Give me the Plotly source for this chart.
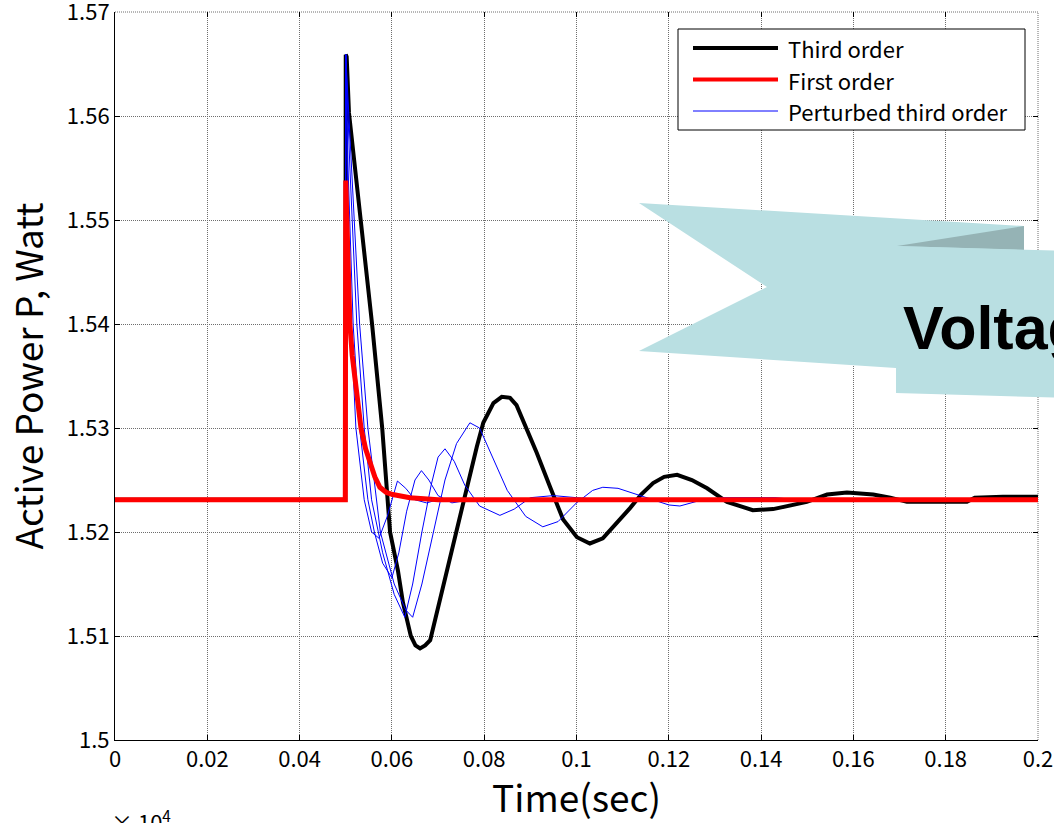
import plotly.graph_objects as go

# ---- data: time (s) and active power (in units of 10^4 W) ----
POWER_EXP = 4

t_third = [0.0, 0.0499, 0.0500, 0.0502, 0.0507, 0.0515, 0.0531, 0.0545, 0.0557, 0.0579,
           0.0596, 0.0613, 0.0624, 0.0641, 0.0651, 0.0661, 0.0672, 0.0683, 0.0697, 0.0711,
           0.0726, 0.0740, 0.0755, 0.0769, 0.0784, 0.0798, 0.0820, 0.0838, 0.0856, 0.0870,
           0.0884, 0.0914, 0.0943, 0.0971, 0.1001, 0.1029, 0.1057, 0.1088, 0.1116, 0.1140,
           0.1166, 0.1190, 0.1218, 0.1250, 0.1283, 0.1326, 0.1382, 0.1426, 0.1470, 0.1499,
           0.1543, 0.1586, 0.1643, 0.1680, 0.1716, 0.1846, 0.1863, 0.1924, 0.2000]
p_third = [1.5231, 1.5231, 1.5659, 1.5657, 1.5603, 1.5570, 1.5501, 1.5450, 1.5400, 1.5300,
           1.5200, 1.5163, 1.5132, 1.5100, 1.5091, 1.5088, 1.5091, 1.5096, 1.5122, 1.5147,
           1.5173, 1.5199, 1.5228, 1.5253, 1.5282, 1.5305, 1.5324, 1.5330, 1.5329, 1.5322,
           1.5308, 1.5276, 1.5243, 1.5212, 1.5195, 1.5189, 1.5194, 1.5209, 1.5223, 1.5236,
           1.5247, 1.5253, 1.5255, 1.5250, 1.5242, 1.5229, 1.5221, 1.5222, 1.5226, 1.5229,
           1.5236, 1.5238, 1.5236, 1.5233, 1.5229, 1.5229, 1.5233, 1.5234, 1.5234]

t_first = [0.0, 0.0499, 0.0500, 0.0502, 0.0506, 0.0509, 0.0514, 0.0520, 0.0533, 0.0543,
           0.0553, 0.0563, 0.0574, 0.0588, 0.0602, 0.0620, 0.0639, 0.0700, 0.2000]
p_first = [1.5231, 1.5231, 1.5538, 1.5500, 1.5442, 1.5400, 1.5370, 1.5346, 1.5300, 1.5280,
           1.5266, 1.5253, 1.5243, 1.5238, 1.5236, 1.5234, 1.5233, 1.5231, 1.5231]

t_pert1 = [0.0, 0.0499, 0.0500, 0.0503, 0.0507, 0.0511, 0.0522, 0.0540, 0.0556, 0.0572,
           0.0590, 0.0612, 0.0630, 0.0650, 0.0675, 0.0700, 0.2000]
p_pert1 = [1.5231, 1.5231, 1.5659, 1.5550, 1.5450, 1.5400, 1.5300, 1.5231, 1.5200, 1.5194,
           1.5215, 1.5249, 1.5242, 1.5231, 1.5228, 1.5231, 1.5231]

t_pert2 = [0.0, 0.0499, 0.0500, 0.0505, 0.0516, 0.0530, 0.0548, 0.0562, 0.0580, 0.0600,
           0.0615, 0.0632, 0.0650, 0.0664, 0.0680, 0.0700, 0.0730, 0.0770, 0.2000]
p_pert2 = [1.5231, 1.5231, 1.5659, 1.5550, 1.5400, 1.5300, 1.5231, 1.5200, 1.5170, 1.5156,
           1.5180, 1.5220, 1.5250, 1.5259, 1.5250, 1.5235, 1.5228, 1.5231, 1.5231]

t_pert3 = [0.0, 0.0499, 0.0500, 0.0509, 0.0524, 0.0540, 0.0556, 0.0580, 0.0605, 0.0628,
           0.0645, 0.0665, 0.0685, 0.0700, 0.0715, 0.0735, 0.0758, 0.0790, 0.0834, 0.0865,
           0.0900, 0.0950, 0.1000, 0.1060, 0.2000]
p_pert3 = [1.5231, 1.5231, 1.5659, 1.5550, 1.5400, 1.5300, 1.5231, 1.5180, 1.5140, 1.5118,
           1.5150, 1.5200, 1.5245, 1.5272, 1.5280, 1.5268, 1.5245, 1.5225, 1.5216, 1.5222,
           1.5233, 1.5235, 1.5233, 1.5231, 1.5231]

t_pert4 = [0.0, 0.0499, 0.0500, 0.0513, 0.0530, 0.0548, 0.0575, 0.0605, 0.0630, 0.0645,
           0.0665, 0.0690, 0.0715, 0.0740, 0.0769, 0.0790, 0.0815, 0.0850, 0.0890, 0.0927,
           0.0960, 0.1000, 0.1035, 0.1057, 0.1090, 0.1150, 0.1200, 0.1224, 0.1265, 0.1320,
           0.1430, 0.1480, 0.2000]
p_pert4 = [1.5231, 1.5231, 1.5659, 1.5550, 1.5400, 1.5300, 1.5200, 1.5150, 1.5125, 1.5118,
           1.5150, 1.5200, 1.5250, 1.5285, 1.5305, 1.5300, 1.5275, 1.5240, 1.5215, 1.5205,
           1.5210, 1.5228, 1.5240, 1.5243, 1.5242, 1.5233, 1.5226, 1.5225, 1.5230, 1.5233,
           1.5233, 1.5231, 1.5231]

x_ticks = [0.0, 0.02, 0.04, 0.06, 0.08, 0.1, 0.12, 0.14, 0.16, 0.18, 0.2]
x_tick_labels = ["0", "0.02", "0.04", "0.06", "0.08", "0.1", "0.12", "0.14", "0.16", "0.18", "0.2"]
y_ticks = [1.50, 1.51, 1.52, 1.53, 1.54, 1.55, 1.56, 1.57]
y_tick_labels = ["1.5", "1.51", "1.52", "1.53", "1.54", "1.55", "1.56", "1.57"]

series_names = ["Third order", "First order", "Perturbed third order"]
series_colors = ["#000000", "#ff0000", "#0000ff"]
series_widths = [4, 5, 1]

# ---- figure geometry ----
W, H = 1054, 823
ML, MR, MT, MB = 115, 16, 12, 83
PW, PH = W - ML - MR, H - MT - MB
FONT = "Noto Sans CJK JP, Noto Sans, sans-serif"
GRID_COLOR = "#6e6e6e"
GRID_DASH = "1px,1px"


def px(x):
    return (x - ML) / PW


def py(y):
    return (H - MB - y) / PH


fig = go.Figure()

fig.add_trace(go.Scatter(x=t_third, y=p_third, mode="lines", name=series_names[0],
                         line=dict(color=series_colors[0], width=series_widths[0])))
for t, p in [(t_pert1, p_pert1), (t_pert2, p_pert2), (t_pert3, p_pert3), (t_pert4, p_pert4)]:
    fig.add_trace(go.Scatter(x=t, y=p, mode="lines", name=series_names[2],
                             line=dict(color=series_colors[2], width=series_widths[2])))
fig.add_trace(go.Scatter(x=t_first, y=p_first, mode="lines", name=series_names[1],
                         line=dict(color=series_colors[1], width=series_widths[1])))
# carrier for the mirrored top/right tick marks
fig.add_trace(go.Scatter(x=[0.1], y=[1.52], xaxis="x2", yaxis="y2", mode="markers",
                         marker=dict(opacity=0), showlegend=False, hoverinfo="skip"))

grid = dict(showgrid=True, gridcolor=GRID_COLOR, gridwidth=1, griddash=GRID_DASH)
tick_font = dict(family=FONT, size=22, color="black")
title_font = dict(family=FONT, size=37, color="black")

fig.update_layout(
    width=W, height=H,
    margin=dict(l=ML, r=MR, t=MT, b=MB, autoexpand=False),
    paper_bgcolor="white", plot_bgcolor="white",
    showlegend=False,
    xaxis=dict(range=[0, 0.2], tickvals=x_ticks, ticktext=x_tick_labels,
               ticks="inside", ticklen=5, tickcolor="black", automargin=False,
               showline=True, linecolor="black", linewidth=1, ticklabeloverflow="allow",
               zeroline=False, tickfont=tick_font,
               title=dict(text="Time(sec)", font=title_font, standoff=8),
               **grid),
    yaxis=dict(range=[1.5, 1.57], tickvals=y_ticks, ticktext=y_tick_labels,
               ticks="inside", ticklen=5, tickcolor="black", automargin=False,
               showline=True, linecolor="black", linewidth=1, ticklabeloverflow="allow",
               zeroline=False, tickfont=tick_font,
               title=dict(text="Active Power P, Watt", font=title_font, standoff=15),
               **grid),
    xaxis2=dict(overlaying="x", side="top", range=[0, 0.2], tickvals=x_ticks, automargin=False,
                ticks="inside", ticklen=5, tickcolor="black", showticklabels=False,
                showgrid=False, showline=False, zeroline=False),
    yaxis2=dict(overlaying="y", side="right", range=[1.5, 1.57], tickvals=y_ticks, automargin=False,
                ticks="inside", ticklen=5, tickcolor="black", showticklabels=False,
                showgrid=False, showline=False, zeroline=False),
)

# dotted top and right frame edges (grid lines on the range limits)
fig.add_shape(type="line", xref="paper", yref="paper", x0=0, x1=1, y0=1, y1=1,
              line=dict(color=GRID_COLOR, width=1, dash=GRID_DASH), layer="below")
fig.add_shape(type="line", xref="paper", yref="paper", x0=1, x1=1, y0=0, y1=1,
              line=dict(color=GRID_COLOR, width=1, dash=GRID_DASH), layer="below")

# exponent marker for the power axis
fig.add_annotation(xref="paper", yref="paper", x=px(109), y=py(802), xanchor="left", yanchor="top",
                   text=f"\u00d7 10<sup>{POWER_EXP}</sup>", showarrow=False,
                   font=dict(family=FONT, size=22, color="black"))

# legend box
fig.add_shape(type="rect", xref="paper", yref="paper", x0=px(678), x1=px(1025), y0=py(29), y1=py(130),
              fillcolor="white", line=dict(color="black", width=1), layer="above")
for i, (name, col, wid) in enumerate(zip(series_names, series_colors, series_widths)):
    yy = 48 + 31.5 * i
    fig.add_shape(type="line", xref="paper", yref="paper", x0=px(693), x1=px(778), y0=py(yy), y1=py(yy),
                  line=dict(color=col, width=min(wid, 4)), layer="above")
    fig.add_annotation(xref="paper", yref="paper", x=px(786), y=py(yy), xanchor="left", yanchor="middle",
                       text=name, showarrow=False, font=dict(family=FONT, size=22, color="black"))

# ribbon callout
LIGHT, DARK = "#b9dfe2", "#95b3b5"


def path(points):
    return "M " + " L ".join(f"{px(a):.5f},{py(b):.5f}" for a, b in points) + " Z"


fig.add_shape(type="path", xref="paper", yref="paper", layer="above", fillcolor=LIGHT, line=dict(width=0),
              path=path([(639, 203), (1024, 226), (1024, 362), (896, 368), (639, 351), (767, 287)]))
fig.add_shape(type="path", xref="paper", yref="paper", layer="above", fillcolor=DARK, line=dict(width=0),
              path=path([(897, 246), (1024, 226), (1024, 250)]))
fig.add_shape(type="path", xref="paper", yref="paper", layer="above", fillcolor=LIGHT, line=dict(width=0),
              path=path([(896, 246), (1070, 251), (1070, 398), (896, 393)]))
fig.add_annotation(xref="paper", yref="paper", x=px(901), y=py(328), xanchor="left", yanchor="middle",
                   text="<b>Voltage</b>", showarrow=False,
                   font=dict(family="Liberation Sans, Arial, sans-serif", size=61, color="black"))

fig.write_html("out.html")
